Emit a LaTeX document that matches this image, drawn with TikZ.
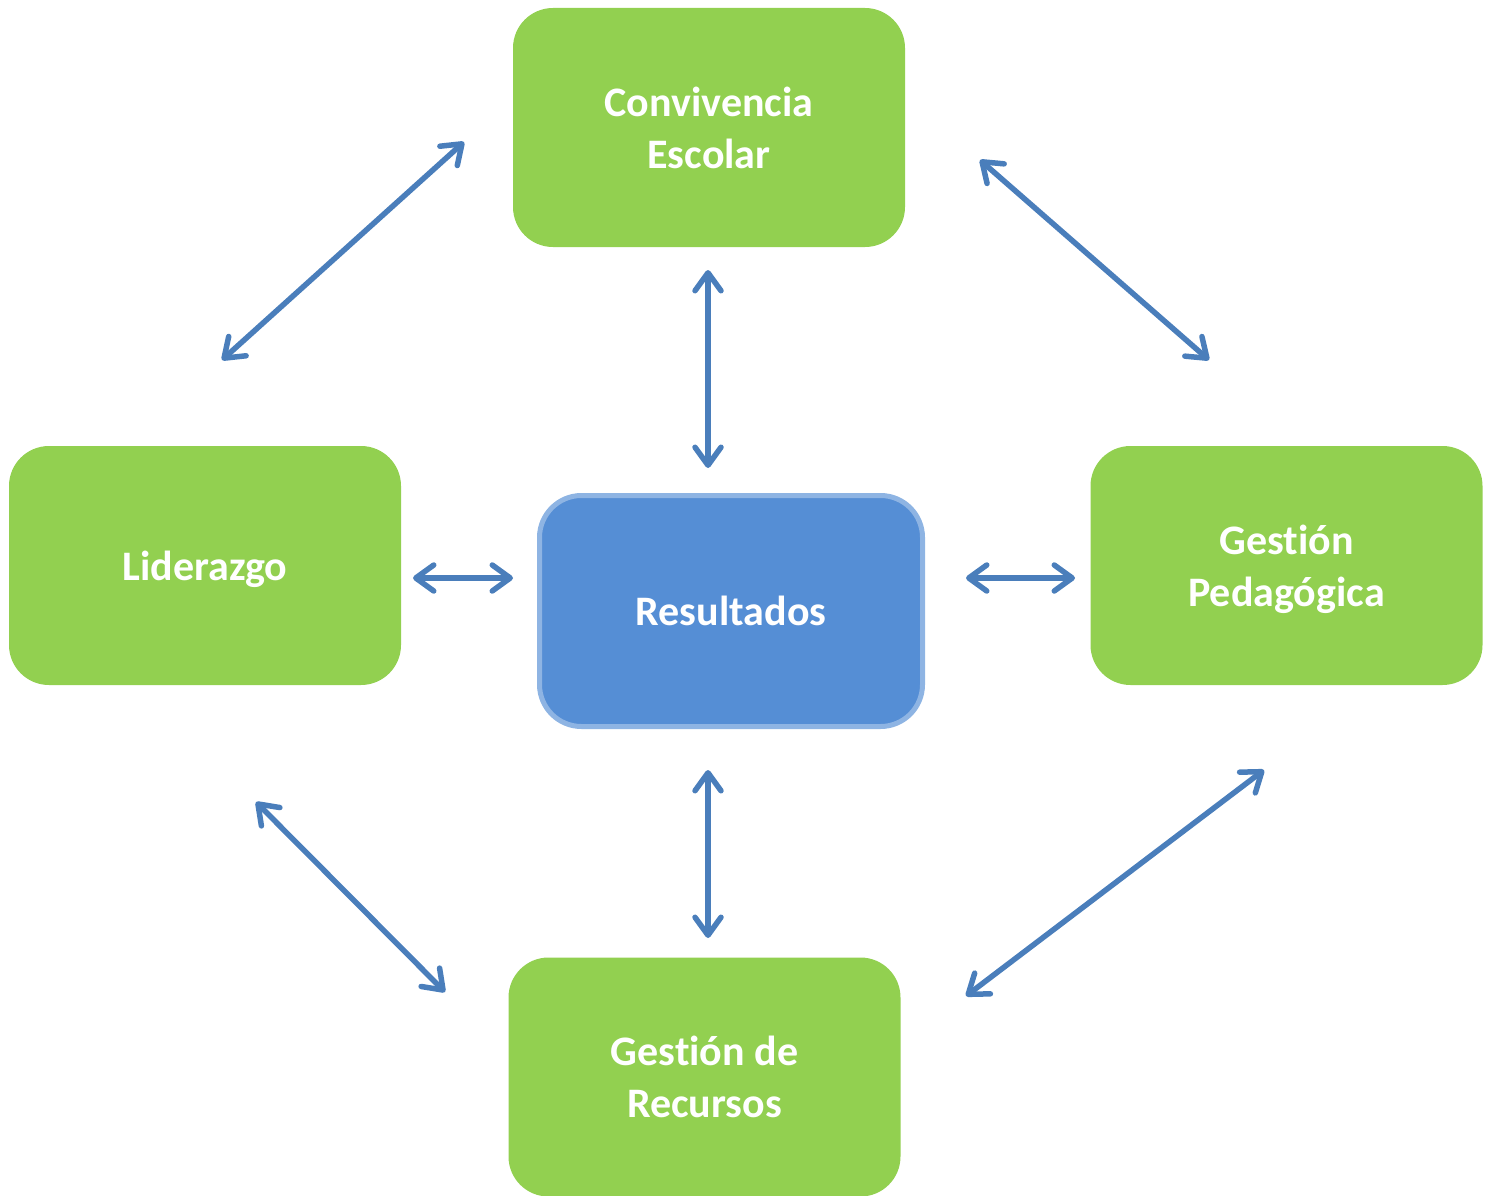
\documentclass[tikz,border=0pt]{standalone}
\usepackage{fontspec}
\setmainfont{Carlito}[Ligatures=NoCommon]
\usetikzlibrary{arrows.meta}
\definecolor{boxgreen}{HTML}{92D050}
\definecolor{resfill}{HTML}{558ED5}
\definecolor{resline}{HTML}{8EB4E3}
\definecolor{arrowblue}{HTML}{4A7EBB}
\newcommand{\lowertext}[1]{\raisebox{-4pt}[\height][\depth]{#1}}
\tikzset{
  greenbox/.style={rectangle, rounded corners=40pt, fill=boxgreen, draw=none,
    minimum width=392pt, minimum height=239pt, text=white, align=center,
    font=\fontsize{42}{52}\selectfont\bfseries, inner sep=0pt},
  resbox/.style={rectangle, rounded corners=42pt, fill=resfill, draw=resline, line width=5pt,
    minimum width=383pt, minimum height=231pt, text=white, align=center,
    font=\fontsize{42}{52}\selectfont\bfseries, inner sep=0pt},
  link/.style={draw=arrowblue, line width=5.5pt, line cap=round,
    {Straight Barb[length=18pt,width=26pt,round]}-{Straight Barb[length=18pt,width=26pt,round]}}
}
\begin{document}
\begin{tikzpicture}[x=1pt,y=-1pt]
\useasboundingbox (0,0) rectangle (1491,1196);
\node[greenbox] (conv) at (709,127.5) {Convivencia\\Escolar};
\node[greenbox] (lid) at (205,565.5) {\lowertext{Liderazgo}};
\node[resbox] (res) at (731,611) {Resultados};
\node[greenbox] (ped) at (1286.5,565.5) {\lowertext{Gestión}\\\lowertext{Pedagógica}};
\node[greenbox] (rec) at (704.5,1077) {Gestión de\\Recursos};
% arrow end points
\coordinate (a1s) at (222,360); \coordinate (a1e) at (464,142);
\coordinate (a2s) at (980,160); \coordinate (a2e) at (1209,360);
\coordinate (a3s) at (708,270); \coordinate (a3e) at (708,468);
\coordinate (a4s) at (413,578); \coordinate (a4e) at (513,578);
\coordinate (a5s) at (966,578); \coordinate (a5e) at (1075,578);
\coordinate (a6s) at (708,770); \coordinate (a6e) at (708,938);
\coordinate (a7s) at (256,802); \coordinate (a7e) at (445,992);
\coordinate (a8s) at (966,996); \coordinate (a8e) at (1264,770);
\foreach \i in {1,...,8} {\draw[link] (a\i s) -- (a\i e);}
\end{tikzpicture}
\end{document}
